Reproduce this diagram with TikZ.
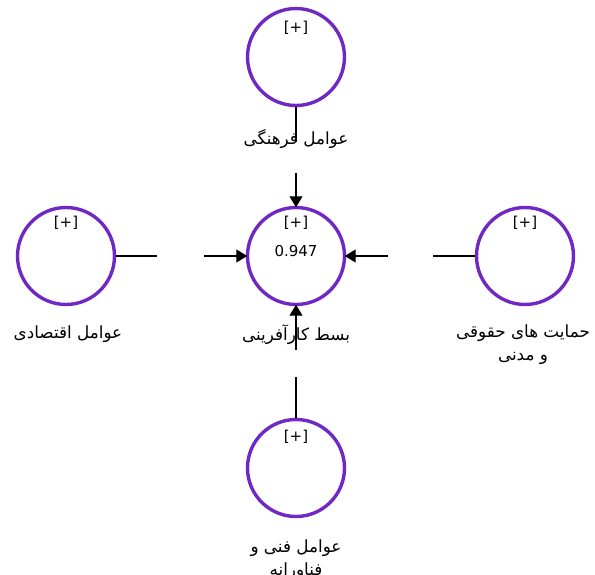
\documentclass[tikz,border=0pt]{standalone}
\usepackage{fontspec}
\setmainfont{DejaVu Sans}
\newfontfamily\arabicfont[Script=Arabic]{DejaVu Sans}
\TeXXeTstate=1
\usetikzlibrary{arrows.meta}
\definecolor{lvpurple}{RGB}{112,40,196}
\tikzset{
  lv/.style={circle, draw=lvpurple, line width=3.4pt, minimum size=97pt, inner sep=0pt},
  plus/.style={font=\fontsize{15pt}{16pt}\selectfont, inner sep=0pt},
  lbl/.style={font=\arabicfont\fontsize{16.8pt}{23pt}\selectfont, align=center, inner sep=0pt},
  conn/.style={line width=1.3pt, black},
  arr/.style={conn, -{Triangle[length=11pt,width=13pt]}, shorten >=-1.5pt}
}
\begin{document}
\begin{tikzpicture}[x=1pt,y=-1pt]
\useasboundingbox (0,0) rectangle (595,575);
% latent variables
\node[lv] (cult) at (296,57) {};
\node[lv] (ent) at (296,256) {};
\node[lv] (econ) at (66,256) {};
\node[lv] (legal) at (525,256) {};
\node[lv] (tech) at (296,468) {};
% [+] markers
\node[plus] (pcult) at (296,28) {[+]};
\node[plus] (pent) at (296,223) {[+]};
\node[plus] (pecon) at (66,223) {[+]};
\node[plus] (plegal) at (525,223) {[+]};
\node[plus] (ptech) at (296,437) {[+]};
\node[plus] (r2) at (296,251) {0.947};
% labels
\node[lbl] (lcult) at (296,139) {\beginR عوامل فرهنگی\endR};
\node[lbl] (lent) at (296,335) {\beginR بسط کارآفرینی\endR};
\node[lbl] (lecon) at (68,334) {\beginR عوامل اقتصادی\endR};
\node[lbl] (llegal) at (523,345) {\beginR حمایت های حقوقی\endR\\\beginR و مدنی\endR};
\node[lbl] (ltech) at (296,560) {\beginR عوامل فنی و\endR\\\beginR فناورانه\endR};
% gap coordinates
\coordinate (c1) at (296,142);
\coordinate (c2) at (296,173);
\coordinate (e1) at (157,256);
\coordinate (e2) at (204,256);
\coordinate (g1) at (433,256);
\coordinate (g2) at (388,256);
\coordinate (t1) at (296,377);
\coordinate (t2) at (296,350);
% connectors
\draw[conn] (cult) -- (c1);
\draw[arr] (c2) -- (ent);
\draw[conn] (econ) -- (e1);
\draw[arr] (e2) -- (ent);
\draw[conn] (legal) -- (g1);
\draw[arr] (g2) -- (ent);
\draw[conn] (tech) -- (t1);
\draw[arr] (t2) -- (ent);
\end{tikzpicture}
\end{document}
